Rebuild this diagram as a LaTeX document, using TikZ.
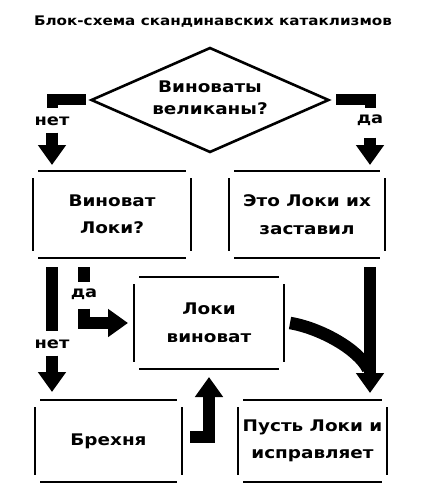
\documentclass[tikz,border=0pt]{standalone}
\usepackage{fontspec}
\setmainfont{DejaVu Sans}
\newfontfamily\comic[FakeStretch=1.15]{DejaVu Sans}
\usetikzlibrary{arrows.meta,shapes.geometric}
\tikzset{
  boxline/.style={line width=2.6pt},
  stepnode/.style={inner sep=0pt,outer sep=0pt,align=center,
    font=\comic\bfseries\fontsize{16}{27.5}\selectfont},
  fat/.style={line width=12.5pt,line join=miter},
  fatarrow/.style={fat,-{Triangle[width=27pt,length=20pt]}},
  lbl/.style={font=\comic\bfseries\fontsize{15.5}{17}\selectfont,inner sep=0pt}
}
\newcommand\gapframe[1]{%
  \draw[boxline]
    ([xshift=5pt]#1.north west) -- ([xshift=-5pt]#1.north east)
    ([xshift=5pt]#1.south west) -- ([xshift=-5pt]#1.south east)
    ([yshift=-7pt]#1.north west) -- ([yshift=7pt]#1.south west)
    ([yshift=-7pt]#1.north east) -- ([yshift=7pt]#1.south east);}
\begin{document}
\begin{tikzpicture}[x=1pt,y=-1pt]
\useasboundingbox[fill=white] (0,0) rectangle (420,500);
% title
\node[font=\comic\bfseries\fontsize{13.2}{15}\selectfont] (title) at (213,22) {Блок-схема скандинавских катаклизмов};
% diamond
\node[draw,diamond,line width=2.6pt,minimum width=238pt,minimum height=105pt,inner sep=0pt] (dia) at (210,100) {};
\node[stepnode,font=\comic\bfseries\fontsize{16}{22}\selectfont] (diat) at (210,98) {Виноваты\\великаны?};
% boxes
\node[stepnode,minimum width=158pt,minimum height=87pt] (b1) at (112,214.5) {Виноват\\Локи?};
\node[stepnode,minimum width=156pt,minimum height=87pt] (b2) at (307,214.5) {Это Локи их\\заставил};
\node[stepnode,minimum width=150pt,minimum height=92pt] (b3) at (209,323) {Локи\\виноват};
\node[stepnode,minimum width=147pt,minimum height=82pt] (b4) at (108.5,441) {Брехня};
\node[stepnode,minimum width=149pt,minimum height=82pt] (b5) at (312.5,441) {Пусть Локи и\\исправляет};
\gapframe{b1}\gapframe{b2}\gapframe{b3}\gapframe{b4}\gapframe{b5}
% labels
\node[lbl] (n1) at (52,121) {нет};
\node[lbl] (d1) at (370,120) {да};
\node[lbl] (n2) at (52,344) {нет};
\node[lbl] (d2) at (84,294) {да};
% top left (no)
\coordinate (a1) at ([xshift=-4pt]dia.west);
\draw[fat,line width=11pt] (a1) -- (a1 -| n1) -- ([yshift=8pt]n1.north);
\draw[fatarrow] ([yshift=-7pt]n1.south) -- ([yshift=6pt]b1.north -| n1);
% top right (yes)
\coordinate (a2) at ([xshift=6pt]dia.east);
\draw[fat,line width=11pt] (a2) -- (a2 -| d1) -- ([yshift=6pt]d1.north);
\draw[fatarrow] ([yshift=-12pt]d1.south) -- ([yshift=6pt]b2.north -| d1);
% left box: no
\draw[fat] ([yshift=-9pt]b1.south -| n2) -- ([yshift=8pt]n2.north);
\draw[fatarrow] ([yshift=-7pt]n2.south) -- ([yshift=8pt]b4.north -| n2);
% left box: yes
\draw[fat] ([yshift=-9pt]b1.south -| d2) -- ([yshift=6pt]d2.north);
\coordinate (y1) at ([yshift=-9pt]d2.south);
\draw[fatarrow] (y1) -- (y1 |- b3.center) -- ([xshift=-6pt]b3.west);
% right: from b2 down to b5, with curve from b3
\coordinate (r1) at ([yshift=-9pt]b2.south -| d1);
\coordinate (r2) at ([yshift=7pt]b5.north -| d1);
\draw[fatarrow] (r1) -- (r2);
\draw[fat] ([xshift=6pt]b3.east) .. controls +(30pt,-5pt) and +(-10pt,20pt) .. ([xshift=-2pt,yshift=24pt]r2);
% Брехня -> Локи виноват
\coordinate (u1) at ([xshift=8pt,yshift=4pt]b4.east);
\draw[fatarrow] (u1) -- (u1 -| b3.south) -- ([yshift=-8pt]b3.south);
\end{tikzpicture}
\end{document}
